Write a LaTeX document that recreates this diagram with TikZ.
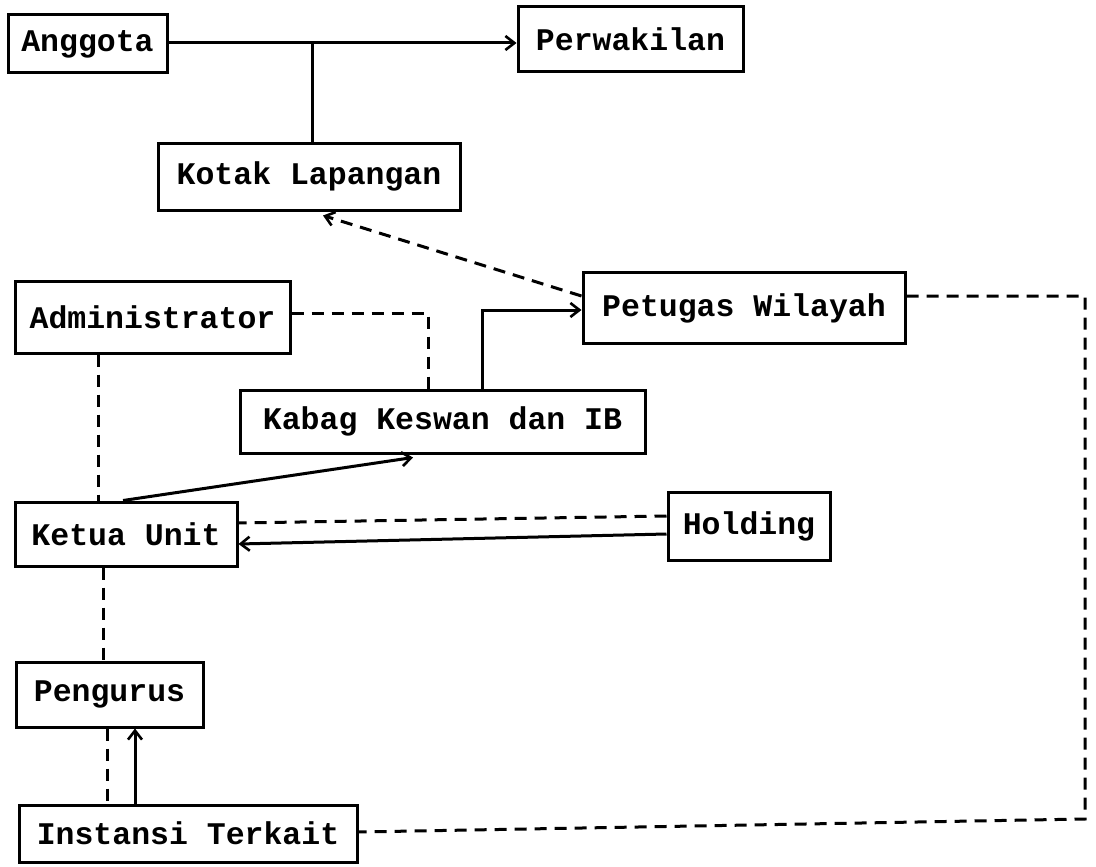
\documentclass[tikz,border=0pt]{standalone}
\usepackage{fontspec}
\setmainfont{Liberation Mono}
\usetikzlibrary{arrows.meta,calc}
\begin{document}
\begin{tikzpicture}[x=1pt,y=-1pt,
  box/.style={draw,line width=3pt,inner sep=0pt,font=\fontsize{31.5}{34}\selectfont\bfseries},
  sline/.style={line width=3pt},
  dline/.style={line width=3pt,dash pattern=on 12pt off 8pt},
  tip/.style={-{Straight Barb[length=9pt,width=14pt,line width=2.6pt]}}]
\useasboundingbox[fill=white] (0,0) rectangle (1096,867);
\node[box,minimum width=159pt,minimum height=58pt] (ang) at (87.5,44) {Anggota};
\node[box,minimum width=225pt,minimum height=65pt] (per) at (630.5,39.5) {Perwakilan};
\node[box,minimum width=302pt,minimum height=67pt] (kot) at (309,176.5) {Kotak Lapangan};
\node[box,minimum width=322pt,minimum height=71pt] (pet) at (744,308) {Petugas Wilayah};
\node[box,minimum width=275pt,minimum height=72pt] (adm) at (152.5,317) {Administrator};
\node[box,minimum width=405pt,minimum height=63pt] (kab) at (442.5,421.5) {Kabag Keswan dan IB};
\node[box,minimum width=162pt,minimum height=68pt] (hol) at (749,526) {Holding};
\node[box,minimum width=222pt,minimum height=64pt] (ket) at (126,534) {Ketua Unit};
\node[box,minimum width=187pt,minimum height=65pt] (pen) at (109.5,694.5) {Pengurus};
\node[box,minimum width=338pt,minimum height=57pt] (ins) at (188,833.5) {Instansi Terkait};
\coordinate (c1) at (1085,296);
\coordinate (c2) at (1085,819);
% helper points on box edges
\coordinate (angR) at ($(ang.east)+(0,-1)$);
\coordinate (kotTop) at ($(kot.north)+(3,0)$);
\coordinate (admBot) at ($(adm.south)+(-54,0)$);
\coordinate (ketBot) at ($(ket.south)+(-23,0)$);
\coordinate (penBotA) at ($(pen.south)+(-2.5,0)$);
\coordinate (penBotB) at ($(pen.south)+(25.5,0)$);
% Anggota -> Perwakilan
\draw[sline,tip] (angR) -- (angR -| per.west);
\draw[sline] (kotTop) -- (kotTop |- angR);
% Petugas -> Kotak
\draw[dline,tip] ($(pet.west)+(0,-12)$) -- ($(kot.south)+(14,4)$);
% Administrator -- Kabag
\draw[dline] ($(adm.east)+(0,-4)$) -| ($(kab.north)+(-14.5,0)$);
% Kabag -> Petugas
\draw[sline,tip] ($(kab.north)+(39.5,0)$) |- ($(pet.west)+(0,2)$);
% Administrator -- Ketua
\draw[dline] (admBot) -- (admBot |- ket.north);
% Ketua -> Kabag
\draw[sline,tip] ($(ket.north)+(-3,0)$) -- ($(kab.south)+(-29.5,3)$);
% Holding -- Ketua
\draw[dline] ($(hol.west)+(0,-10)$) -- ($(ket.east)+(0,-11)$);
\draw[sline,tip] ($(hol.west)+(0,8)$) -- ($(ket.east)+(0,10)$);
% Ketua -- Pengurus
\draw[dline] (ketBot) -- (ketBot |- pen.north);
% Pengurus -- Instansi
\draw[dline] (penBotA) -- (penBotA |- ins.north);
\draw[sline,tip] (penBotB |- ins.north) -- (penBotB);
% Petugas -- Instansi
\draw[dline] ($(pet.east)+(0,-12)$) -- (c1) -- (c2) -- ($(ins.east)+(0,-1.5)$);
\end{tikzpicture}
\end{document}
